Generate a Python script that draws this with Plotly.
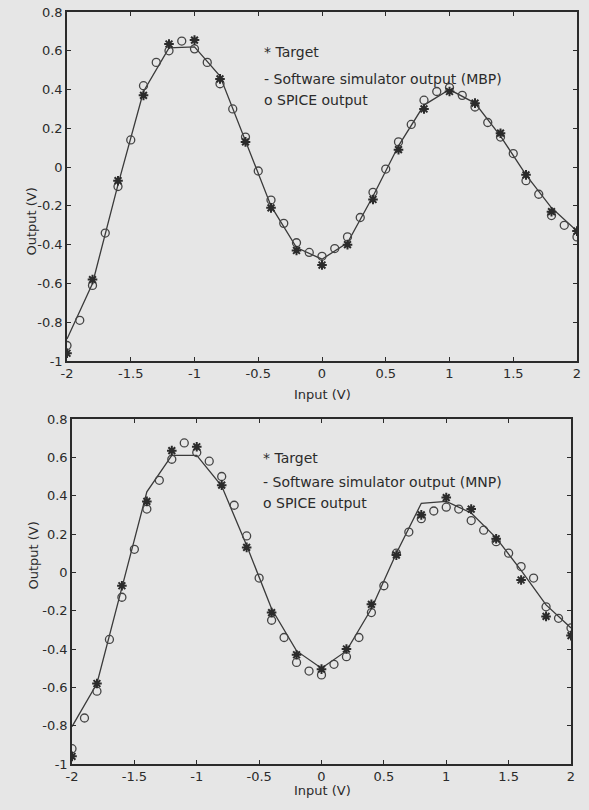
import plotly.graph_objects as go

W, H = 589, 810

# input sweep (V)
x_target = [-2.0, -1.8, -1.6, -1.4, -1.2, -1.0, -0.8, -0.6, -0.4, -0.2, 0.0,
            0.2, 0.4, 0.6, 0.8, 1.0, 1.2, 1.4, 1.6, 1.8, 2.0]
x_spice = [-2.0, -1.9, -1.8, -1.7, -1.6, -1.5, -1.4, -1.3, -1.2, -1.1, -1.0,
           -0.9, -0.8, -0.7, -0.6, -0.5, -0.4, -0.3, -0.2, -0.1, 0.0,
           0.1, 0.2, 0.3, 0.4, 0.5, 0.6, 0.7, 0.8, 0.9, 1.0,
           1.1, 1.2, 1.3, 1.4, 1.5, 1.6, 1.7, 1.8, 1.9, 2.0]

# target values (same in both panels)
target = [-0.96, -0.58, -0.07, 0.37, 0.635, 0.655, 0.455, 0.13, -0.21, -0.43, -0.505,
          -0.40, -0.167, 0.09, 0.30, 0.39, 0.33, 0.175, -0.04, -0.23, -0.33]

# top panel (MBP)
sim_mbp = [-0.887, -0.60, -0.09, 0.39, 0.615, 0.62, 0.47, 0.14, -0.20, -0.415, -0.475,
           -0.39, -0.15, 0.11, 0.32, 0.40, 0.33, 0.16, -0.04, -0.21, -0.33]
spice_mbp = [-0.92, -0.79, -0.61, -0.34, -0.10, 0.14, 0.42, 0.54, 0.60, 0.65, 0.61,
             0.54, 0.43, 0.30, 0.155, -0.02, -0.17, -0.29, -0.39, -0.44, -0.46,
             -0.42, -0.36, -0.26, -0.13, -0.01, 0.13, 0.22, 0.345, 0.39, 0.41,
             0.37, 0.31, 0.23, 0.155, 0.07, -0.07, -0.14, -0.25, -0.30, -0.36]

# bottom panel (MNP)
sim_mnp = [-0.805, -0.58, -0.08, 0.42, 0.61, 0.61, 0.45, 0.14, -0.19, -0.41, -0.50,
           -0.41, -0.19, 0.10, 0.36, 0.37, 0.31, 0.18, 0.01, -0.17, -0.29]
spice_mnp = [-0.92, -0.76, -0.62, -0.35, -0.13, 0.12, 0.33, 0.48, 0.59, 0.675, 0.625,
             0.58, 0.50, 0.35, 0.19, -0.03, -0.25, -0.34, -0.47, -0.515, -0.535,
             -0.48, -0.44, -0.34, -0.21, -0.07, 0.10, 0.21, 0.28, 0.32, 0.34,
             0.33, 0.27, 0.22, 0.16, 0.10, 0.03, -0.03, -0.18, -0.24, -0.29]

x_ticks = [-2, -1.5, -1, -0.5, 0, 0.5, 1, 1.5, 2]
x_ticktext = ["-2", "-1.5", "-1", "-0.5", "0", "0.5", "1", "1.5", "2"]
y_ticks = [-1, -0.8, -0.6, -0.4, -0.2, 0, 0.2, 0.4, 0.6, 0.8]
y_ticktext = ["-1", "-0.8", "-0.6", "-0.4", "-0.2", "0", "0.2", "0.4", "0.6", "0.8"]

ink = "#2b2b2b"
bg = "#e6e6e6"
font = "DejaVu Sans"


def px_x(p):
    return p / W


def px_y(p):
    return 1 - p / H


fig = go.Figure()

panels = [
    ("x", "y", sim_mbp, spice_mbp),
    ("x2", "y2", sim_mnp, spice_mnp),
]
for xa, ya, sim, spice in panels:
    fig.add_trace(go.Scatter(x=x_target, y=sim, mode="lines", xaxis=xa, yaxis=ya,
                             line=dict(color="#3a3a3a", width=1.3), showlegend=False))
    fig.add_trace(go.Scatter(x=x_spice, y=spice, mode="markers", xaxis=xa, yaxis=ya,
                             marker=dict(symbol="circle-open", size=8, color="#444444",
                                         line=dict(width=1.3)), showlegend=False))
    fig.add_trace(go.Scatter(x=x_target, y=target, mode="markers", xaxis=xa, yaxis=ya,
                             marker=dict(symbol="asterisk-open", size=8, color=ink,
                                         line=dict(width=2, color=ink)), showlegend=False))

axis_common = dict(showgrid=False, zeroline=False, showline=True, linecolor=ink,
                   linewidth=1.5, mirror="allticks", ticks="inside", ticklen=4,
                   tickcolor=ink, tickfont=dict(family=font, size=13, color=ink),
                   automargin=False)

fig.update_layout(
    width=W, height=H,
    margin=dict(l=0, r=0, t=0, b=0),
    paper_bgcolor=bg, plot_bgcolor=bg,
    xaxis=dict(axis_common, domain=[px_x(67), px_x(577)], range=[-2, 2],
               tickvals=x_ticks, ticktext=x_ticktext, anchor="y"),
    yaxis=dict(axis_common, domain=[px_y(361), px_y(12)], range=[-1, 0.8],
               tickvals=y_ticks, ticktext=y_ticktext, anchor="x"),
    xaxis2=dict(axis_common, domain=[px_x(72), px_x(571)], range=[-2, 2],
                tickvals=x_ticks, ticktext=x_ticktext, anchor="y2"),
    yaxis2=dict(axis_common, domain=[px_y(764), px_y(419)], range=[-1, 0.8],
                tickvals=y_ticks, ticktext=y_ticktext, anchor="x2"),
    showlegend=False,
)

ann = []
# axis titles
for cx, cy in [(322, 395), (322, 800)]:
    ann.append(dict(x=px_x(cx), y=px_y(cy), xref="paper", yref="paper", text="Input (V)",
                    showarrow=False, font=dict(family=font, size=13, color=ink)))
for cx, cy in [(21, 186), (23, 592)]:
    ann.append(dict(x=px_x(cx), y=px_y(cy), xref="paper", yref="paper", text="Output (V)",
                    textangle=-90, showarrow=False, font=dict(family=font, size=13, color=ink)))

# legend text
legend_rows = [
    (262, [52, 79, 100], ["* Target", "- Software simulator output (MBP)", "o SPICE output"]),
    (261, [458, 482, 503], ["* Target", "- Software simulator output (MNP)", "o SPICE output"]),
]
for lx, ys, labels in legend_rows:
    for ly, lab in zip(ys, labels):
        ann.append(dict(x=px_x(lx), y=px_y(ly), xref="paper", yref="paper", text=lab,
                        xanchor="left", yanchor="middle", showarrow=False,
                        font=dict(family=font, size=14, color=ink)))

fig.update_layout(annotations=ann)

# drop the default page margin so the figure fills the window exactly
fig.write_html("out.html", config={"displayModeBar": False},
               post_script="document.body.style.margin='0';document.body.style.overflow='hidden';")
